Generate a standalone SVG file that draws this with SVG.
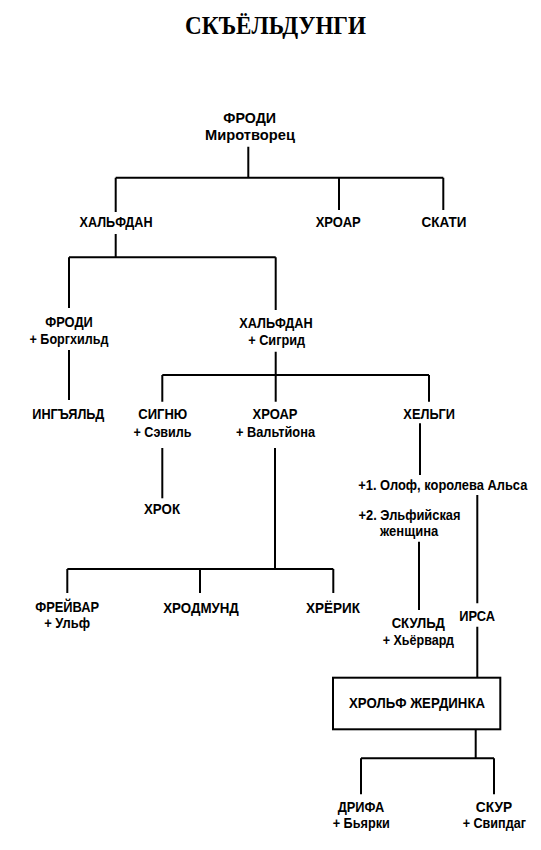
<svg xmlns="http://www.w3.org/2000/svg" width="541" height="850" viewBox="0 0 541 850">
<style>
.t{font-family:"Liberation Sans",Arial,sans-serif;font-weight:bold;font-size:15px;fill:#000;text-anchor:middle}
.h{font-family:"Liberation Serif",serif;font-weight:bold;font-size:25px;fill:#000;text-anchor:middle}
.c{fill:none;stroke:#000;stroke-width:2}
</style>
<rect width="541" height="850" fill="#fff"/>
<text class="h" x="275.5" y="33.5" textLength="181" lengthAdjust="spacingAndGlyphs">СКЪЁЛЬДУНГИ</text>
<g id="connectors" class="c">
<path d="M248.3 146.7V177.7M115.7 177.7H443.3M115.7 177.7V212M339 177.7V210M443.3 177.7V210"/>
<path d="M115.7 234V257.3M69 257.3H275.7M69 257.3V308M275.7 257.3V310"/>
<path d="M69 350V400"/>
<path d="M275.7 351.7V401.7M162.3 375H429M162.3 375V401.7M429 375V401.7"/>
<path d="M420 423.3V475"/>
<path d="M162.3 448V498.3"/>
<path d="M275 448V569M67.3 569H333.3M67.3 569V593M200 569V593M333.3 569V593"/>
<path d="M419 541.7V610"/>
<path d="M477.3 495V603.3M477.3 626.7V677.7"/>
<path d="M475.7 729.3V758.3M361 758.3H494M361 758.3V794.3M494 758.3V794.3"/>
</g>
<g id="n-frodi1"><text class="t" x="249.7" y="122.7" textLength="52.7" lengthAdjust="spacingAndGlyphs">ФРОДИ</text><text class="t" x="250" y="140" textLength="90" lengthAdjust="spacingAndGlyphs">Миротворец</text></g>
<g id="n-halfdan1"><text class="t" x="116" y="226.7" textLength="73" lengthAdjust="spacingAndGlyphs">ХАЛЬФДАН</text></g>
<g id="n-hroar1"><text class="t" x="338.2" y="226.7" textLength="45" lengthAdjust="spacingAndGlyphs">ХРОАР</text></g>
<g id="n-skati"><text class="t" x="444" y="226.7" textLength="45" lengthAdjust="spacingAndGlyphs">СКАТИ</text></g>
<g id="n-frodi2"><text class="t" x="69" y="327.3" textLength="47.7" lengthAdjust="spacingAndGlyphs">ФРОДИ</text><text class="t" x="69" y="344" textLength="79" lengthAdjust="spacingAndGlyphs">+ Боргхильд</text></g>
<g id="n-halfdan2"><text class="t" x="276" y="328.3" textLength="73.4" lengthAdjust="spacingAndGlyphs">ХАЛЬФДАН</text><text class="t" x="276.7" y="345" textLength="57" lengthAdjust="spacingAndGlyphs">+ Сигрид</text></g>
<g id="n-ingjald"><text class="t" x="68.3" y="419.3" textLength="72" lengthAdjust="spacingAndGlyphs">ИНГЪЯЛЬД</text></g>
<g id="n-signy"><text class="t" x="162.8" y="419.3" textLength="49" lengthAdjust="spacingAndGlyphs">СИГНЮ</text><text class="t" x="162.5" y="436.7" textLength="58" lengthAdjust="spacingAndGlyphs">+ Сэвиль</text></g>
<g id="n-hroar2"><text class="t" x="275" y="419.3" textLength="45" lengthAdjust="spacingAndGlyphs">ХРОАР</text><text class="t" x="275.5" y="436.7" textLength="79" lengthAdjust="spacingAndGlyphs">+ Вальтйона</text></g>
<g id="n-helgi"><text class="t" x="429.2" y="419.3" textLength="51.7" lengthAdjust="spacingAndGlyphs">ХЕЛЬГИ</text></g>
<g id="n-wives"><text class="t" x="442.8" y="490" textLength="169" lengthAdjust="spacingAndGlyphs">+1. Олоф, королева Альса</text><text class="t" x="409.5" y="520" textLength="102" lengthAdjust="spacingAndGlyphs">+2. Эльфийская</text><text class="t" x="409.2" y="536" textLength="58.3" lengthAdjust="spacingAndGlyphs">женщина</text></g>
<g id="n-hrok"><text class="t" x="162" y="514" textLength="36" lengthAdjust="spacingAndGlyphs">ХРОК</text></g>
<g id="n-freyvar"><text class="t" x="67.2" y="611.7" textLength="64" lengthAdjust="spacingAndGlyphs">ФРЕЙВАР</text><text class="t" x="67.2" y="627.7" textLength="46" lengthAdjust="spacingAndGlyphs">+ Ульф</text></g>
<g id="n-hrodmund"><text class="t" x="201" y="612.7" textLength="75.7" lengthAdjust="spacingAndGlyphs">ХРОДМУНД</text></g>
<g id="n-hrerik"><text class="t" x="333" y="612.7" textLength="54" lengthAdjust="spacingAndGlyphs">ХРЁРИК</text></g>
<g id="n-skuld"><text class="t" x="418.3" y="628.3" textLength="53.3" lengthAdjust="spacingAndGlyphs">СКУЛЬД</text><text class="t" x="418.3" y="645" textLength="71.3" lengthAdjust="spacingAndGlyphs">+ Хьёрвард</text></g>
<g id="n-yrsa"><text class="t" x="477.2" y="620.7" textLength="35.7" lengthAdjust="spacingAndGlyphs">ИРСА</text></g>
<g id="n-hrolf"><rect x="333" y="677.7" width="167.3" height="51.6" fill="#fff" stroke="#000" stroke-width="2"/><text class="t" x="417" y="708.3" textLength="136" lengthAdjust="spacingAndGlyphs">ХРОЛЬФ ЖЕРДИНКА</text></g>
<g id="n-drifa"><text class="t" x="361" y="811.7" textLength="46.7" lengthAdjust="spacingAndGlyphs">ДРИФА</text><text class="t" x="361.3" y="827.7" textLength="57.3" lengthAdjust="spacingAndGlyphs">+ Бьярки</text></g>
<g id="n-skur"><text class="t" x="494" y="811.7" textLength="36.3" lengthAdjust="spacingAndGlyphs">СКУР</text><text class="t" x="494.3" y="827.7" textLength="63.3" lengthAdjust="spacingAndGlyphs">+ Свипдаг</text></g>
</svg>
